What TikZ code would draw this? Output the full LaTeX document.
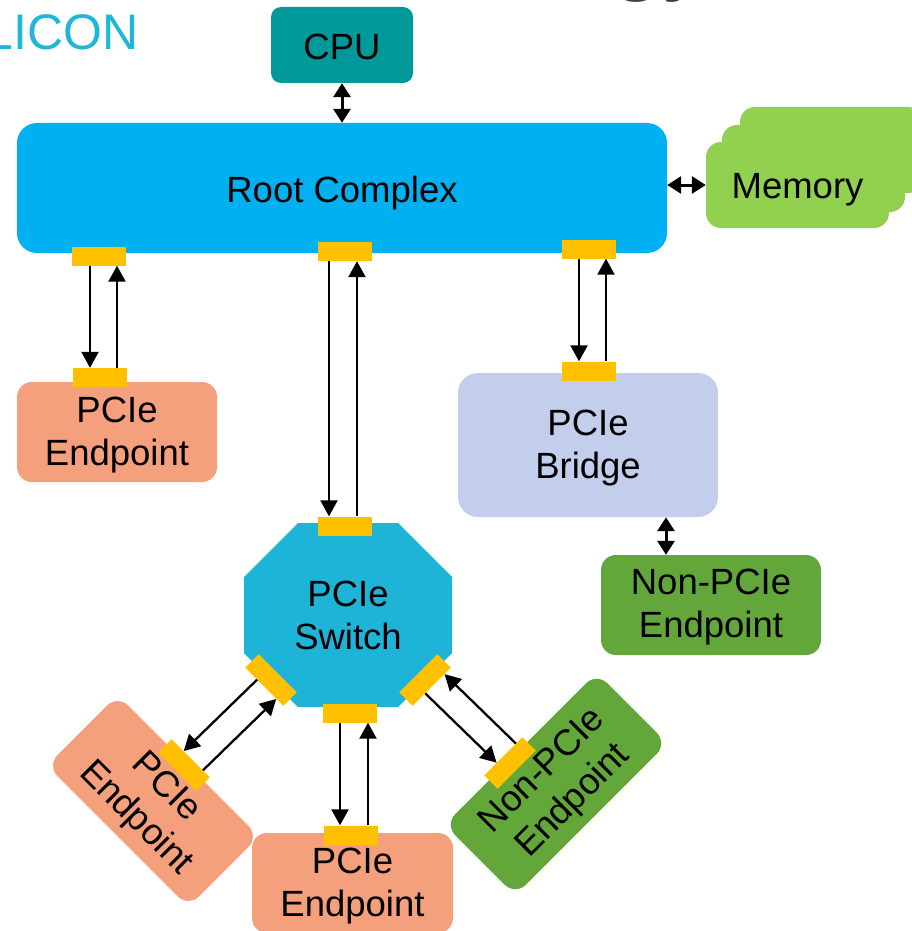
\documentclass[tikz,border=0pt]{standalone}
\usepackage{fontspec}
\setmainfont{Liberation Sans}
\usetikzlibrary{arrows.meta,calc}

\definecolor{rootblue}{RGB}{0,176,240}
\definecolor{cputeal}{RGB}{0,153,153}
\definecolor{memgreen}{RGB}{146,208,80}
\definecolor{epsalmon}{RGB}{245,160,125}
\definecolor{bridgeblue}{RGB}{194,206,236}
\definecolor{npegreen}{RGB}{99,167,58}
\definecolor{switchcyan}{RGB}{30,180,215}
\definecolor{portyellow}{RGB}{255,192,0}
\definecolor{brandcyan}{RGB}{31,183,216}
\definecolor{titlegrey}{RGB}{60,64,74}

\begin{document}
\begin{tikzpicture}[x=1pt,y=-1pt,
  lbl/.style={font=\fontsize{36.5}{43}\selectfont, align=center, text=black, inner sep=0pt},
  block/.style={inner sep=0pt, minimum width=#1},
  port/.style={fill=portyellow, minimum width=54pt, minimum height=19pt, inner sep=0pt},
  link/.style={line width=2.3pt, -{Triangle[length=16pt,width=17pt]}},
  duplex/.style={line width=3pt, {Triangle[length=14pt,width=17pt]}-{Triangle[length=14pt,width=17pt]}},
]
\useasboundingbox (0,0) rectangle (912,931);
\clip (0,0) rectangle (912,931);

% heading fragments
\node[font=\fontsize{50}{60}\selectfont, text=brandcyan, anchor=base east, inner sep=0pt] (brand) at (139,50) {LICON};
\node[font=\fontsize{96}{110}\selectfont, text=titlegrey, anchor=base west, inner sep=0pt] (title) at (610,-17) {gy};

% host side
\node[block=142pt, minimum height=76pt, fill=cputeal, rounded corners=10pt] (cpu) at (342,45) {};
\node[lbl] (cput) at ([yshift=-2pt]cpu.center) {CPU};
\node[block=650pt, minimum height=130pt, fill=rootblue, rounded corners=20pt] (root) at (342,188) {};
\node[lbl] (roott) at ([yshift=-5pt]root.center) {Root Complex};

% memory stack
\fill[memgreen, rounded corners=15pt] (740,107) rectangle (923,193);
\fill[memgreen, rounded corners=15pt] (722,125) rectangle (905,212);
\node[block=183pt, minimum height=86pt, fill=memgreen, rounded corners=15pt] (mem) at (797.5,185) {};
\node[lbl] (memt) at ([yshift=-5pt]mem.center) {Memory};

% devices
\node[block=200pt, minimum height=100pt, fill=epsalmon, rounded corners=15pt] (ep1) at (117,432) {};
\node[lbl] (ep1t) at ([yshift=-3.5pt]ep1.center) {PCIe\\Endpoint};
\node[block=260pt, minimum height=144pt, fill=bridgeblue, rounded corners=20pt] (bridge) at (588,445) {};
\node[lbl] (bridget) at ([yshift=-3.5pt]bridge.center) {PCIe\\Bridge};
\node[block=220pt, minimum height=100pt, fill=npegreen, rounded corners=15pt] (npe1) at (711,605) {};
\node[lbl] (npe1t) at ([yshift=-2pt]npe1.center) {Non-PCIe\\Endpoint};

% switch
\fill[switchcyan] (298,523) -- (398,523) -- (452,577) -- (452,653) -- (398,707)
  -- (298,707) -- (244,653) -- (244,577) -- cycle;
\node[lbl] (sw) at (348,615) {PCIe\\Switch};

% devices below the switch
\node[block=200pt, minimum height=100pt, fill=epsalmon, rounded corners=15pt, rotate=-45] (ep2) at (153,801) {};
\node[lbl, rotate=-45] (ep2t) at ($(ep2.center)!3.5pt!(ep2.south)$) {PCIe\\Endpoint};
\node[block=201pt, minimum height=100pt, fill=epsalmon, rounded corners=15pt] (ep3) at (352.5,883) {};
\node[lbl] (ep3t) at ([yshift=-3.5pt]ep3.center) {PCIe\\Endpoint};
\node[block=215pt, minimum height=100pt, fill=npegreen, rounded corners=15pt, rotate=45] (npe2) at (556,784) {};
\node[lbl, rotate=45] (npe2t) at ($(npe2.center)!3.5pt!(npe2.south)$) {Non-PCIe\\Endpoint};

% ports
\node[port] (rpL) at (99,256) {};
\node[port] (rpM) at (345,251.5) {};
\node[port] (rpR) at (589,249) {};
\node[port] (ep1p) at (100,377.5) {};
\node[port] (brp) at (589,371) {};
\node[port] (swT) at (345,526) {};
\node[port] (swB) at (350,713) {};
\node[port, rotate=-45] (swL) at (271,680) {};
\node[port, rotate=45] (swR) at (425,680) {};
\node[port] (ep3p) at (350.5,835) {};
\node[port, rotate=-45] (ep2p) at (184,765) {};
\node[port, rotate=45] (npe2p) at (510,763) {};

% host links
\draw[duplex] (cpu.south) -- (root.north);
\draw[duplex] (root.east |- mem.west) -- (mem.west);
\coordinate (bn) at ([xshift=-45pt]npe1.north);
\draw[duplex] (bn |- bridge.south) -- (bn);

% root complex to first endpoint
\coordinate (a1) at ([xshift=-9pt]rpL.south);
\coordinate (a2) at ([xshift=18pt]rpL.south);
\draw[link] (a1) -- (a1 |- ep1p.north);
\draw[link] (a2 |- ep1p.north) -- (a2);

% root complex to switch
\coordinate (b1) at ([xshift=-16pt]rpM.south);
\coordinate (b2) at ([xshift=12pt]rpM.south);
\draw[link] (b1) -- (b1 |- swT.north);
\draw[link] (b2 |- swT.north) -- (b2);

% root complex to bridge
\coordinate (c1) at ([xshift=-10pt]rpR.south);
\coordinate (c2) at ([xshift=17pt]rpR.south);
\draw[link] (c1) -- (c1 |- brp.north);
\draw[link] (c2 |- brp.north) -- (c2);

% switch to bottom endpoint
\coordinate (d1) at ([xshift=-10pt]swB.south);
\coordinate (d2) at ([xshift=18pt]swB.south);
\draw[link] (d1) -- (d1 |- ep3p.north);
\draw[link] (d2 |- ep3p.north) -- (d2);

% switch to the tilted endpoints
\draw[link] ($(swL.south west)!0.315!(swL.south east)$) -- ($(ep2p.north west)!0.315!(ep2p.north east)$);
\draw[link] ($(ep2p.north west)!0.815!(ep2p.north east)$) -- ($(swL.south west)!0.815!(swL.south east)$);
\draw[link] ($(swR.south west)!0.33!(swR.south east)$) -- ($(npe2p.north west)!0.33!(npe2p.north east)$);
\draw[link] ($(npe2p.north west)!0.83!(npe2p.north east)$) -- ($(swR.south west)!0.83!(swR.south east)$);
\end{tikzpicture}
\end{document}
